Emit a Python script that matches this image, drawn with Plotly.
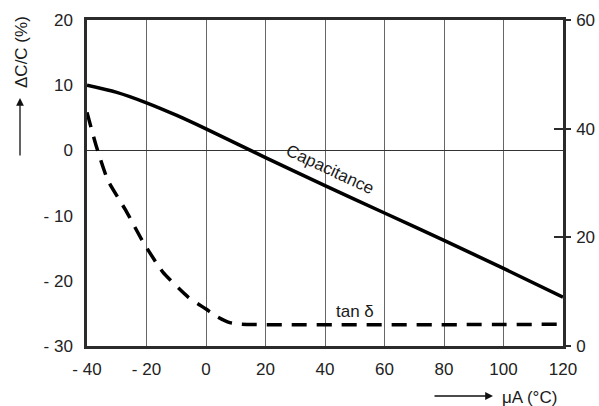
import plotly.graph_objects as go

# Capacitance change (left axis, %)
cap_temp = [-40, -30, -20, -10, 0, 20, 40, 60, 80, 100, 120]
cap_dcc = [10.0, 8.9, 7.3, 5.4, 3.3, -1.1, -5.4, -9.6, -13.8, -18.1, -22.5]

# Dissipation factor tan delta (right axis, 0..60)
tan_temp = [-40, -37, -33, -27, -21, -14.5, -6, 0, 4, 8, 12, 120]
tan_val = [43, 37, 30.5, 25, 19, 13.6, 9, 6.8, 5.3, 4.3, 4.0, 4.0]

x_ticks = [-40, -20, 0, 20, 40, 60, 80, 100, 120]
x_ticktext = ["- 40", "- 20", "0", "20", "40", "60", "80", "100", "120"]
y_ticks = [20, 10, 0, -10, -20, -30]
y_ticktext = ["20", "10", "0", "- 10", "- 20", "- 30"]
y2_ticks = [0, 20, 40, 60]

FONT = "Liberation Sans, Arial, Helvetica, sans-serif"
AX = "#2b2b2b"

fig = go.Figure()
fig.add_trace(go.Scatter(x=cap_temp, y=cap_dcc, mode="lines",
                         line=dict(color="black", width=3.5, shape="spline", smoothing=0.8),
                         showlegend=False, hoverinfo="skip"))
fig.add_trace(go.Scatter(x=tan_temp, y=tan_val, mode="lines", yaxis="y2",
                         line=dict(color="black", width=3.5, dash="15px,10px", shape="spline", smoothing=0.5),
                         showlegend=False, hoverinfo="skip"))
# invisible trace for inner right ticks
fig.add_trace(go.Scatter(x=[None], y=[None], yaxis="y3", showlegend=False, hoverinfo="skip"))

fig.update_layout(
    width=599, height=406,
    margin=dict(l=87, r=36, t=20, b=60, autoexpand=False),
    paper_bgcolor="white", plot_bgcolor="white",
    font=dict(family=FONT, size=17, color="#222"),
    xaxis=dict(range=[-40, 120], tickvals=x_ticks, ticktext=x_ticktext, automargin=False,
               showgrid=True, gridcolor="#666", gridwidth=1,
               showline=True, linecolor=AX, linewidth=2.5, mirror=True,
               ticks="", ticklabelstandoff=6, zeroline=False, fixedrange=True),
    yaxis=dict(range=[-30, 20], tickvals=y_ticks, ticktext=y_ticktext, automargin=False,
               showgrid=False, zeroline=True, zerolinecolor="#333", zerolinewidth=1,
               showline=True, linecolor=AX, linewidth=2.5,
               ticks="", ticklabelstandoff=8),
    yaxis2=dict(range=[0, 60], tickvals=y2_ticks, overlaying="y", side="right", automargin=False,
                showgrid=False, zeroline=False, showline=True, linecolor=AX, linewidth=2.5,
                ticks="outside", ticklen=5, tickwidth=1.5, tickcolor=AX, ticklabelstandoff=2),
    yaxis3=dict(range=[0, 60], tickvals=y2_ticks, overlaying="y", side="right", automargin=False,
                showgrid=False, zeroline=False, showline=False, showticklabels=False,
                ticks="inside", ticklen=9, tickwidth=1.5, tickcolor=AX),
)

def label(px, py, text, **kw):
    fig.add_annotation(x=(px - 87) / 476, y=(346 - py) / 326, xref="paper", yref="paper",
                       text=text, showarrow=False, xanchor="center", yanchor="middle",
                       font=dict(size=17, color="#1a1a1a"), **kw)

# curve labels
label(330, 169, "Capacitance", textangle=25)
label(355, 311, "tan δ")

# axis titles with arrows
label(21, 52, "ΔC/C (%)", textangle=-90)
fig.add_annotation(x=(20 - 87) / 476, y=(346 - 98) / 326, xref="paper", yref="paper",
                   text="", showarrow=True, ax=0, ay=59, arrowhead=2, arrowsize=1.2,
                   arrowwidth=1.3, arrowcolor="#111")
label(529, 397, "μA (°C)")
fig.add_annotation(x=(493 - 87) / 476, y=(346 - 396) / 326, xref="paper", yref="paper",
                   text="", showarrow=True, ax=-60, ay=0, arrowhead=2, arrowsize=1.2,
                   arrowwidth=1.3, arrowcolor="#111")

fig.write_html("out.html", config={"displayModeBar": False},
               post_script="document.body.style.margin='0';document.body.style.overflow='hidden';")
